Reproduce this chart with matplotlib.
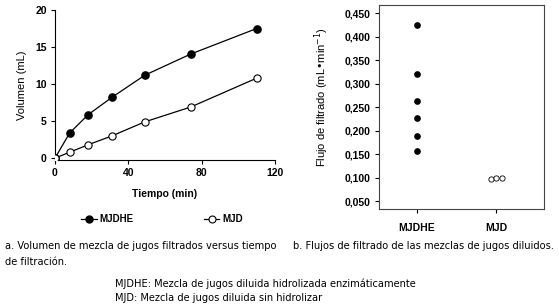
import matplotlib

matplotlib.use("Agg")
import matplotlib.pyplot as plt  # noqa: E402
from matplotlib.lines import Line2D  # noqa: E402

# ---- data ----
tiempo_mjdhe = [0, 8, 18, 31, 49, 74, 110]
vol_mjdhe = [0, 3.4, 5.85, 8.2, 11.2, 14.05, 17.5]
tiempo_mjd = [0, 8, 18, 31, 49, 74, 110]
vol_mjd = [0, 0.8, 1.8, 3.0, 4.9, 6.9, 10.8]

flujo_mjdhe = [0.425, 0.320, 0.264, 0.227, 0.188, 0.157]
flujo_mjd = [0.097, 0.099, 0.098]
mjd_jitter = [-0.07, 0.0, 0.07]

vol_xticks = [0, 40, 80, 120]
vol_yticks = [0, 5, 10, 15, 20]
flujo_yticks = [0.05, 0.10, 0.15, 0.20, 0.25, 0.30, 0.35, 0.40, 0.45]
flujo_ylabels = ["0,050", "0,100", "0,150", "0,200", "0,250", "0,300", "0,350", "0,400", "0,450"]
grupos = ["MJDHE", "MJD"]

W, H = 559, 306
SANS = ["Liberation Sans", "DejaVu Sans"]
CAP = ["DejaVu Sans"]
CAP_SIZE = 7.1


def px(l, t, r, b):
    return [l / W, 1 - b / H, (r - l) / W, (b - t) / H]


fig = plt.figure(figsize=(W / 100, H / 100), dpi=100, facecolor="white")

# ---- a: volumen vs tiempo ----
ax = fig.add_axes(px(55, 10, 275, 160))
ax.plot(tiempo_mjdhe, vol_mjdhe, "-o", color="black", mfc="black", mec="black",
        lw=0.9, ms=5.2, label="MJDHE", zorder=3)
ax.plot(tiempo_mjd, vol_mjd, "-o", color="black", mfc="white", mec="black",
        lw=0.9, ms=5.2, mew=0.8, label="MJD", zorder=3)
ax.set_xlim(0, 120); ax.set_ylim(-0.25, 20)
ax.set_xticks(vol_xticks); ax.set_yticks(vol_yticks)
for s in ["top", "right"]:
    ax.spines[s].set_visible(False)
for s in ["left", "bottom"]:
    ax.spines[s].set_linewidth(0.8)
ax.tick_params(direction="out", length=3, width=0.8, labelsize=7.5, pad=3)
for lab in ax.get_xticklabels() + ax.get_yticklabels():
    lab.set_fontweight("bold"); lab.set_family(SANS)
ax.set_xlabel("Tiempo (min)", fontsize=7.5, fontweight="bold", family=SANS, labelpad=8)
ax.set_ylabel("Volumen (mL)", fontsize=8, family=SANS, labelpad=6)

handles = [
    Line2D([], [], color="black", marker="o", mfc="black", ms=5, lw=0.9),
    Line2D([], [], color="black", marker="o", mfc="white", ms=5, lw=0.9, mew=0.8),
]
fig.legend(handles, grupos, loc="center", bbox_to_anchor=(162 / W, 1 - 219 / H),
           ncol=2, frameon=False, handlelength=1.6, handletextpad=0.3,
           columnspacing=7.2, prop={"family": SANS, "weight": "bold", "size": 7})

# ---- b: flujos de filtrado ----
bx = fig.add_axes(px(379, 5, 544, 209))
bx.plot([1] * len(flujo_mjdhe), flujo_mjdhe, "o", color="black", ms=3.8, zorder=3)
bx.plot([2 + j for j in mjd_jitter], flujo_mjd, "o", mfc="white", mec="black",
        ms=3.8, mew=0.6, zorder=3)
bx.set_xlim(0.52, 2.6); bx.set_ylim(0.033, 0.4677)
bx.set_xticks([1, 2]); bx.set_xticklabels(grupos)
bx.set_yticks(flujo_yticks); bx.set_yticklabels(flujo_ylabels)
for s in bx.spines.values():
    s.set_linewidth(0.8); s.set_color("#444444")
bx.tick_params(direction="out", length=3, width=0.8, labelsize=7.5, pad=3)
for lab in bx.get_xticklabels() + bx.get_yticklabels():
    lab.set_fontweight("bold"); lab.set_family(SANS)
bx.tick_params(axis="x", pad=7)
bx.set_ylabel("Flujo de filtrado (mL\u2022min$^{-1}$)", fontsize=8, family=SANS)
bx.yaxis.set_label_coords(-0.29, 0.55)

# ---- captions ----
captions = [
    (5, 246, "a. Volumen de mezcla de jugos filtrados versus tiempo"),
    (5, 262, "de filtración."),
    (293, 246, "b. Flujos de filtrado de las mezclas de jugos diluidos."),
    (115, 284, "MJDHE: Mezcla de jugos diluida hidrolizada enzimáticamente"),
    (115, 298, "MJD: Mezcla de jugos diluida sin hidrolizar"),
]
for x, y, t in captions:
    fig.text(x / W, 1 - y / H, t, fontsize=CAP_SIZE, family=CAP, va="center", ha="left")

fig.savefig("out.png", dpi=100, facecolor="white")
